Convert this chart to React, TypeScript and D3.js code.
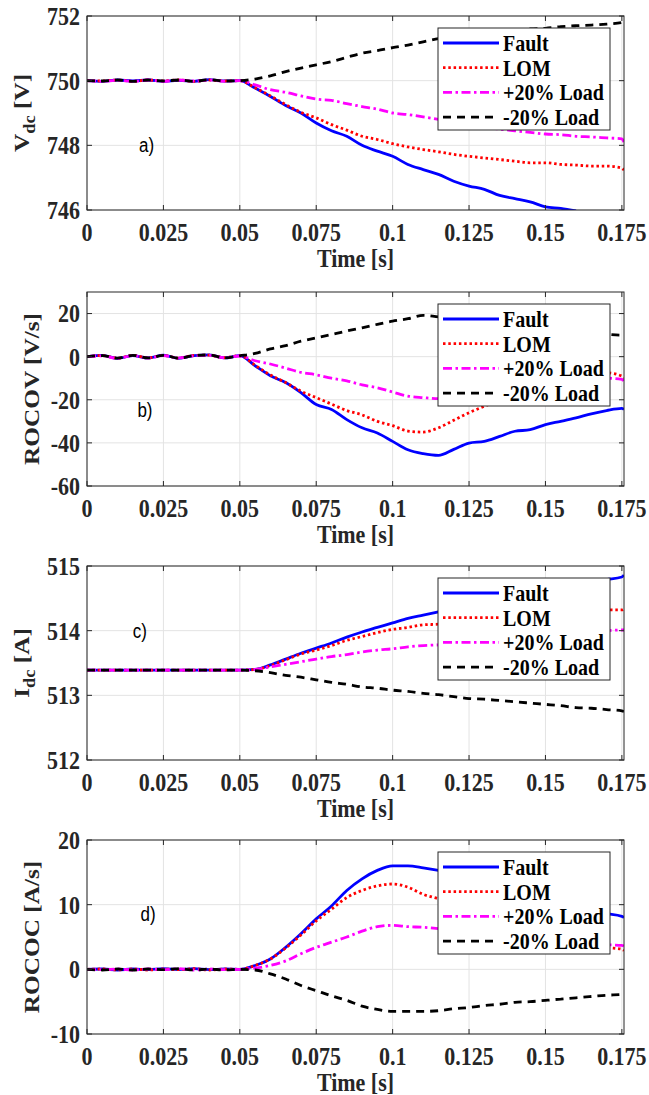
import React from "react";
import * as d3 from "d3";

// sample times [s]
const time = [
  0, 0.005, 0.01, 0.015, 0.02, 0.025, 0.03, 0.035, 0.04, 0.045, 0.05, 0.055, 0.06, 0.065, 0.07, 0.075, 0.08, 0.085,
  0.09, 0.095, 0.1, 0.105, 0.11, 0.115, 0.12, 0.125, 0.13, 0.135, 0.14, 0.145, 0.15, 0.155, 0.16, 0.165, 0.17, 0.175,
  0.1757,
];

const seriesNames = ["Fault", "LOM", "+20% Load", "-20% Load"];
const xTicks = [0, 0.025, 0.05, 0.075, 0.1, 0.125, 0.15, 0.175];

// a) Vdc
const vdcFault = [
  750, 749.98, 750.02, 749.99, 750.02, 749.98, 750.01, 749.98, 750.03, 749.99, 750.0, 749.77, 749.51, 749.23, 749.0,
  748.69, 748.45, 748.28, 748.0, 747.82, 747.66, 747.41, 747.25, 747.1, 746.89, 746.74, 746.64, 746.45, 746.35, 746.25,
  746.1, 746.05, 745.97, null, null, null, null,
];
const vdcLom = [
  750, 749.99, 750.02, 749.98, 750.02, 749.99, 750.02, 749.98, 750.02, 749.99, 750.0, 749.78, 749.53, 749.26, 749.02,
  748.85, 748.64, 748.47, 748.28, 748.18, 748.05, 747.95, 747.87, 747.8, 747.72, 747.66, 747.61, 747.56, 747.51, 747.46,
  747.46, 747.41, 747.39, 747.36, 747.36, 747.3, 747.23,
];
const vdcPlus = [
  750, 749.98, 750.01, 749.98, 750.02, 749.98, 750.02, 749.99, 750.02, 749.98, 750.0, 749.87, 749.72, 749.64, 749.53,
  749.43, 749.39, 749.29, 749.2, 749.12, 749.0, 748.95, 748.88, 748.8, 748.7, 748.6, 748.56, 748.5, 748.45, 748.4,
  748.35, 748.33, 748.28, 748.26, 748.23, 748.2, 748.1,
];
const vdcMinus = [
  750, 749.99, 750.02, 749.98, 750.02, 749.99, 750.02, 749.98, 750.03, 749.99, 750.0, 750.05, 750.15, 750.28, 750.39,
  750.49, 750.59, 750.72, 750.85, 750.93, 751.02, 751.1, 751.2, 751.3, 751.36, 751.42, 751.47, 751.52, 751.56, 751.6,
  751.62, 751.67, 751.7, 751.72, 751.75, 751.8, 751.83,
];

// b) ROCOV
const rocovFault = [
  0, 0.6, -0.8, 0.5, -0.6, 0.7, -0.8, 0.5, 0.8, -0.6, 0.5, -4.2, -8.9, -12, -16.7, -22.2, -24.5, -29.2, -33, -35.4,
  -39.3, -43.2, -45, -45.8, -43, -40.1, -39.3, -37, -34.6, -33.9, -31.5, -30, -28.4, -26.5, -25, -24, -24.5,
];
const rocovLom = [
  0, 0.5, -0.7, 0.6, -0.5, 0.6, -0.7, 0.6, 0.7, -0.5, 0.5, -4, -8.5, -12, -16, -19, -22, -25, -27, -30, -32, -34.5,
  -35, -33, -29.5, -26, -23, -20, -18, -16, -14, -13, -11.5, -10, -7.5, -9, -10,
];
const rocovPlus = [
  0, 0.4, -0.8, 0.5, -0.7, 0.5, -0.6, 0.4, 0.6, -0.5, 0.3, -1.9, -3.4, -5.3, -7.3, -8.4, -10, -11.2, -13.1, -14.4,
  -16.4, -18.3, -19, -19.5, -19.5, -19, -18, -17, -16, -15, -14, -13, -12, -11, -10, -10.5, -11.5,
];
const rocovMinus = [
  0, 0.5, -0.7, 0.6, -0.6, 0.6, -0.7, 0.5, 0.8, -0.6, 0.4, 1.5, 3.6, 5.1, 7.2, 8.7, 10.3, 11.9, 13.4, 15, 16.5, 17.6,
  19.2, 18.5, 18, 17.5, 17, 16, 15.5, 14.5, 14, 13, 12, 11.5, 10.5, 10, 10,
];

// c) Idc
const idcFault = [
  513.39, 513.39, 513.39, 513.39, 513.39, 513.39, 513.39, 513.39, 513.39, 513.39, 513.39, 513.4, 513.47, 513.56, 513.65,
  513.73, 513.81, 513.9, 513.98, 514.05, 514.12, 514.19, 514.24, 514.29, 514.34, 514.39, 514.44, 514.49, 514.54,
  514.58, 514.63, 514.67, 514.71, 514.75, 514.79, 514.83, 514.86,
];
const idcLom = [
  513.39, 513.39, 513.39, 513.39, 513.39, 513.39, 513.39, 513.39, 513.39, 513.39, 513.39, 513.4, 513.46, 513.55, 513.64,
  513.7, 513.77, 513.85, 513.91, 513.97, 514.02, 514.05, 514.09, 514.1, 514.13, 514.16, 514.18, 514.2, 514.22, 514.24,
  514.26, 514.28, 514.3, 514.31, 514.32, 514.32, 514.33,
];
const idcPlus = [
  513.39, 513.39, 513.39, 513.39, 513.39, 513.39, 513.39, 513.39, 513.39, 513.39, 513.39, 513.4, 513.44, 513.48, 513.52,
  513.56, 513.6, 513.63, 513.67, 513.7, 513.72, 513.75, 513.77, 513.78, 513.8, 513.83, 513.85, 513.87, 513.89, 513.91,
  513.93, 513.95, 513.97, 513.99, 514.0, 514.01, 514.01,
];
const idcMinus = [
  513.39, 513.39, 513.39, 513.39, 513.39, 513.39, 513.39, 513.39, 513.39, 513.39, 513.39, 513.38, 513.35, 513.31,
  513.28, 513.24, 513.2, 513.17, 513.13, 513.11, 513.08, 513.06, 513.03, 513.01, 512.98, 512.95, 512.94, 512.92, 512.9,
  512.88, 512.86, 512.84, 512.81, 512.8, 512.78, 512.76, 512.75,
];

// d) ROCOC
const rococFault = [
  0, 0.05, -0.1, 0.05, -0.05, 0.1, -0.05, 0.1, -0.05, 0.05, 0, 0.6, 1.6, 3.4, 5.5, 7.8, 9.8, 12.2, 14, 15.3, 16, 16,
  15.7, 15.3, 14.8, 14.2, 13.5, 12.8, 12.1, 11.4, 10.7, 10.1, 9.5, 9, 8.6, 8.2, 8,
];
const rococLom = [
  0, 0.05, -0.1, 0.05, -0.1, 0.05, -0.05, 0.1, -0.1, 0.05, 0, 0.6, 1.6, 3.3, 5.3, 7.5, 9.3, 11.1, 12.2, 12.9, 13.2,
  12.7, 11.6, 10.9, 10, 9.2, 8.4, 7.6, 6.9, 6.2, 5.6, 5, 4.5, 4, 3.4, 3.1, 2.9,
];
const rococPlus = [
  0, -0.05, 0.05, -0.1, 0.05, -0.05, 0.1, -0.1, 0.05, -0.05, 0, 0.2, 0.6, 1.3, 2.4, 3.4, 4.2, 5, 5.9, 6.6, 6.8, 6.6,
  6.5, 6.3, 6.1, 5.9, 5.6, 5.4, 5.1, 4.9, 4.6, 4.4, 4.2, 4, 3.8, 3.7, 3.6,
];
const rococMinus = [
  0, -0.1, 0.05, -0.1, 0.05, -0.05, 0.1, -0.1, 0.05, -0.1, 0, -0.1, -0.7, -1.5, -2.5, -3.3, -4.1, -4.8, -5.7, -6.2,
  -6.5, -6.5, -6.5, -6.4, -6.1, -5.9, -5.6, -5.4, -5.1, -5, -4.8, -4.6, -4.4, -4.2, -4, -3.9, -3.8,
];

const colors = ["#0000ff", "#ff0000", "#ff00ff", "#000000"];
const dashes = [undefined, "2.5 2.8", "9 3.5 2.5 3.5", "8 6"];

const panels = [
  { id: "a", top: 16, yDomain: [746, 752], yTicks: [746, 748, 750, 752], label: "V", sub: "dc", unit: " [V]",
    labelX: 29, tag: "a)", tagAt: [0.017, 748], series: [vdcFault, vdcLom, vdcPlus, vdcMinus] },
  { id: "b", top: 292, yDomain: [-60, 30], yTicks: [-60, -40, -20, 0, 20], label: "ROCOV [V/s]", sub: "", unit: "",
    labelX: 39, tag: "b)", tagAt: [0.0165, -25], series: [rocovFault, rocovLom, rocovPlus, rocovMinus] },
  { id: "c", top: 566, yDomain: [512, 515], yTicks: [512, 513, 514, 515], label: "I", sub: "dc", unit: " [A]",
    labelX: 29, tag: "c)", tagAt: [0.015, 514], series: [idcFault, idcLom, idcPlus, idcMinus] },
  { id: "d", top: 840, yDomain: [-10, 20], yTicks: [-10, 0, 10, 20], label: "ROCOC [A/s]", sub: "", unit: "",
    labelX: 39, tag: "d)", tagAt: [0.0175, 8.6], series: [rococFault, rococLom, rococPlus, rococMinus] },
];

const left = 87;
const right = 624;
const plotH = 194;
const serif = "'Liberation Serif', 'Times New Roman', serif";
const axisColor = "#262626";
// the source figure is slightly stretched vertically
const stretch = "scale(1,1.15)";

const x = d3.scaleLinear().domain([0, 0.1757]).range([left, right]);

function Panel({ p }: { p: any }) {
  const y = d3.scaleLinear().domain(p.yDomain).range([p.top + plotH, p.top]);
  const bottom = p.top + plotH;
  const line = d3
    .line<number | null>()
    .defined((d) => d !== null)
    .x((_, i) => x(time[i]))
    .y((d) => y(d as number))
    .curve(d3.curveMonotoneX);
  const cy = p.top + plotH / 2;
  const lx = 438;
  const ly = p.top + 12;

  return (
    <g>
      <defs>
        <clipPath id={`clip-${p.id}`}>
          <rect x={left} y={p.top} width={right - left} height={plotH} />
        </clipPath>
      </defs>
      <rect x={left} y={p.top} width={right - left} height={plotH} fill="#fff" />
      {xTicks.map((t) => (
        <line key={`gx${t}`} x1={x(t)} x2={x(t)} y1={p.top} y2={bottom} stroke="#e3e3e3" strokeWidth={1} />
      ))}
      {p.yTicks.map((v: number) => (
        <line key={`gy${v}`} x1={left} x2={right} y1={y(v)} y2={y(v)} stroke="#e3e3e3" strokeWidth={1} />
      ))}
      <g clipPath={`url(#clip-${p.id})`}>
        {p.series.map((s: (number | null)[], i: number) => (
          <path
            key={i}
            d={line(s) || ""}
            fill="none"
            stroke={colors[i]}
            strokeWidth={2.8}
            strokeDasharray={dashes[i]}
          />
        ))}
      </g>
      {/* box + inward ticks */}
      <rect x={left} y={p.top} width={right - left} height={plotH} fill="none" stroke={axisColor} strokeWidth={1} />
      {xTicks.map((t) => (
        <g key={`tx${t}`}>
          <line x1={x(t)} x2={x(t)} y1={bottom} y2={bottom - 5} stroke={axisColor} />
          <line x1={x(t)} x2={x(t)} y1={p.top} y2={p.top + 5} stroke={axisColor} />
          <text
            transform={`translate(${x(t)},${bottom + 31}) ${stretch}`}
            textAnchor="middle"
            fontFamily={serif}
            fontWeight="bold"
            fontSize={22}
            fill="#262626"
          >
            {String(t)}
          </text>
        </g>
      ))}
      {p.yTicks.map((v: number) => (
        <g key={`ty${v}`}>
          <line x1={left} x2={left + 5} y1={y(v)} y2={y(v)} stroke={axisColor} />
          <line x1={right} x2={right - 5} y1={y(v)} y2={y(v)} stroke={axisColor} />
          <text
            transform={`translate(80,${y(v)}) ${stretch}`}
            dy="0.35em"
            textAnchor="end"
            fontFamily={serif}
            fontWeight="bold"
            fontSize={22}
            fill="#262626"
          >
            {String(v)}
          </text>
        </g>
      ))}
      <text
        transform={`translate(${(left + right) / 2},${bottom + 57}) ${stretch}`}
        textAnchor="middle"
        fontFamily={serif}
        fontWeight="bold"
        fontSize={22}
        fill="#262626"
      >
        Time [s]
      </text>
      <text
        transform={`translate(${p.labelX},${cy}) ${stretch} rotate(-90)`}
        textAnchor="middle"
        fontFamily={serif}
        fontWeight="bold"
        fontSize={22}
        fill="#262626"
      >
        {p.label}
        {p.sub && (
          <tspan dy={6} fontSize={16}>
            {p.sub}
          </tspan>
        )}
        {p.unit && <tspan dy={-6}>{p.unit}</tspan>}
      </text>
      <text
        transform={`translate(${x(p.tagAt[0])},${y(p.tagAt[1])}) ${stretch}`}
        dy="0.35em"
        fontFamily="'Liberation Sans', Arial, sans-serif"
        fontSize={17}
        fill="#000"
      >
        {p.tag}
      </text>
      {/* legend */}
      <rect x={lx} y={ly} width={172} height={102} fill="#fff" stroke={axisColor} strokeWidth={1} />
      {seriesNames.map((name, i) => {
        const ry = ly + 15 + i * 24.7;
        return (
          <g key={name}>
            <line x1={lx + 5} x2={lx + 61} y1={ry} y2={ry} stroke={colors[i]} strokeWidth={2.8} strokeDasharray={dashes[i]} />
            <text
              transform={`translate(${lx + 65},${ry}) ${stretch}`}
              dy="0.35em"
              fontFamily={serif}
              fontWeight="bold"
              fontSize={20}
              fill="#000"
            >
              {name}
            </text>
          </g>
        );
      })}
    </g>
  );
}

export default function App() {
  return (
    <svg width={649} height={1095} style={{ position: "absolute", left: 0, top: 0, background: "#fff" }}>
      <rect width={649} height={1095} fill="#fff" />
      {panels.map((p) => (
        <Panel key={p.id} p={p} />
      ))}
    </svg>
  );
}
